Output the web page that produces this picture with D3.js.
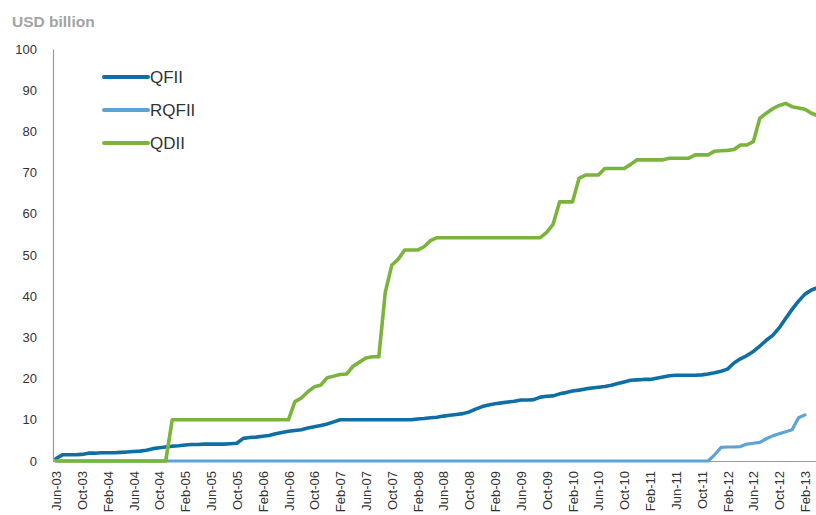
<!DOCTYPE html>
<html>
<head>
<meta charset="utf-8">
<script src="https://cdn.jsdelivr.net/npm/d3@7"></script>
<style>
  body { margin: 0; background: #fff; }
  svg { display: block; font-family: "Liberation Sans", Arial, sans-serif; }
</style>
</head>
<body>
<svg width="816" height="515"></svg>
<script>
// Monthly series, Jun-03 .. Apr-13 (USD billion)
const startMonth = new Date(2003, 5, 1);

const qfii = [
  0.6, 1.5, 1.5, 1.5, 1.6, 1.9, 1.9, 2.0, 2.0, 2.0,
  2.1, 2.2, 2.3, 2.4, 2.6, 3.0, 3.2, 3.4, 3.6, 3.7,
  3.9, 4.0, 4.0, 4.1, 4.1, 4.1, 4.1, 4.2, 4.3, 5.5,
  5.7, 5.8, 6.0, 6.2, 6.6, 6.9, 7.2, 7.4, 7.6, 8.0,
  8.3, 8.6, 9.0, 9.5, 10.0, 10.0, 10.0, 10.0, 10.0, 10.0,
  10.0, 10.0, 10.0, 10.0, 10.0, 10.0, 10.2, 10.3, 10.5, 10.6,
  10.9, 11.1, 11.3, 11.5, 11.9, 12.6, 13.2, 13.6, 13.9, 14.1,
  14.3, 14.5, 14.8, 14.8, 14.9, 15.5, 15.7, 15.8, 16.3, 16.6,
  17.0, 17.2, 17.5, 17.7, 17.9, 18.1, 18.4, 18.8, 19.2, 19.6,
  19.7, 19.8, 19.8, 20.1, 20.4, 20.7, 20.8, 20.8, 20.8, 20.8,
  20.9, 21.1, 21.4, 21.8, 22.3, 23.8, 24.8, 25.6, 26.6, 27.9,
  29.3, 30.5, 32.3, 34.6, 36.8, 38.8, 40.5, 41.5, 42.1
];

const rqfii = [
  0, 0, 0, 0, 0, 0, 0, 0, 0, 0,
  0, 0, 0, 0, 0, 0, 0, 0, 0, 0,
  0, 0, 0, 0, 0, 0, 0, 0, 0, 0,
  0, 0, 0, 0, 0, 0, 0, 0, 0, 0,
  0, 0, 0, 0, 0, 0, 0, 0, 0, 0,
  0, 0, 0, 0, 0, 0, 0, 0, 0, 0,
  0, 0, 0, 0, 0, 0, 0, 0, 0, 0,
  0, 0, 0, 0, 0, 0, 0, 0, 0, 0,
  0, 0, 0, 0, 0, 0, 0, 0, 0, 0,
  0, 0, 0, 0, 0, 0, 0, 0, 0, 0,
  0, 0, 1.5, 3.3, 3.4, 3.4, 3.5, 4.1, 4.3, 4.5,
  5.4, 6.1, 6.6, 7.1, 7.6, 10.5, 11.2
];

const qdii = [
  0, 0, 0, 0, 0, 0, 0, 0, 0, 0,
  0, 0, 0, 0, 0, 0, 0, 0, 10, 10,
  10, 10, 10, 10, 10, 10, 10, 10, 10, 10,
  10, 10, 10, 10, 10, 10, 10, 14.4, 15.3, 16.8,
  18.0, 18.4, 20.2, 20.6, 21.0, 21.1, 23.0, 24.0, 25.0, 25.3,
  25.3, 41.0, 47.5, 49.0, 51.2, 51.2, 51.2, 52.0, 53.5, 54.2,
  54.2, 54.2, 54.2, 54.2, 54.2, 54.2, 54.2, 54.2, 54.2, 54.2,
  54.2, 54.2, 54.2, 54.2, 54.2, 54.2, 55.5, 57.5, 62.9, 62.9,
  62.9, 68.6, 69.4, 69.4, 69.4, 71.0, 71.0, 71.0, 71.0, 72.0,
  73.1, 73.1, 73.1, 73.1, 73.1, 73.5, 73.5, 73.5, 73.5, 74.3,
  74.3, 74.3, 75.2, 75.3, 75.4, 75.6, 76.7, 76.7, 77.5, 83.2,
  84.4, 85.5, 86.3, 86.8, 86.0, 85.7, 85.4, 84.4, 83.8
];

const seriesNames = ['QFII', 'RQFII', 'QDII'];
const seriesColors = ['#0f6fa4', '#5ca4d6', '#7ab43c'];
const yTicks = [0, 10, 20, 30, 40, 50, 60, 70, 80, 90, 100];
const xTickMonths = d3.range(0, 117, 4); // every 4 months, Jun-03 .. Feb-13

const svg = d3.select('svg');
const fmt = d3.timeFormat('%b-%y');

const x = d3.scaleLinear()
  .domain([0, 116])
  .range([56, 805]);

const y = d3.scaleLinear()
  .domain([0, 100])
  .range([461, 49]);

// title
svg.append('text')
  .attr('x', 12)
  .attr('y', 27)
  .attr('font-size', 15.5)
  .attr('font-weight', 'bold')
  .attr('fill', '#a3a3a3')
  .text('USD billion');

// y axis
const yAxis = svg.append('g')
  .attr('transform', 'translate(53,0)')
  .call(d3.axisLeft(y).tickValues(yTicks).tickSize(0).tickPadding(16));
yAxis.select('.domain').attr('stroke', '#9a9a9a').attr('stroke-width', 1.2);
yAxis.selectAll('text').attr('font-size', 13).attr('fill', '#333')
  .attr('font-family', '"Liberation Sans", Arial, sans-serif');

// x axis
const xAxis = svg.append('g')
  .attr('transform', 'translate(0,461)')
  .call(d3.axisBottom(x)
    .tickValues(xTickMonths)
    .tickFormat(i => fmt(d3.timeMonth.offset(startMonth, i)))
    .tickSize(0)
    .tickPadding(0));
xAxis.select('.domain')
  .attr('d', 'M53,0.5H816')
  .attr('stroke', '#9a9a9a').attr('stroke-width', 1.2);
xAxis.selectAll('text')
  .attr('font-size', 13).attr('fill', '#333')
  .attr('font-family', '"Liberation Sans", Arial, sans-serif')
  .attr('transform', 'rotate(-90)')
  .attr('text-anchor', 'end')
  .attr('x', -10)
  .attr('y', 0)
  .attr('dy', '0.35em');

// lines
const line = d3.line()
  .x((d, i) => x(i))
  .y(d => y(d));

const data = [qfii, rqfii, qdii];
const widths = [3.6, 3.2, 3.6];

svg.append('g')
  .selectAll('path')
  .data(data)
  .join('path')
    .attr('d', d => line(d))
    .attr('fill', 'none')
    .attr('stroke', (d, i) => seriesColors[i])
    .attr('stroke-width', (d, i) => widths[i])
    .attr('stroke-linejoin', 'round')
    .attr('stroke-linecap', 'round');

// legend
const legend = svg.append('g')
  .selectAll('g')
  .data(seriesNames)
  .join('g')
    .attr('transform', (d, i) => `translate(104,${77 + i * 33})`);

legend.append('line')
  .attr('x1', 0).attr('x2', 44)
  .attr('stroke', (d, i) => seriesColors[i])
  .attr('stroke-width', 4)
  .attr('stroke-linecap', 'round');

legend.append('text')
  .attr('x', 46)
  .attr('dy', '0.36em')
  .attr('font-size', 17)
  .attr('font-family', '"Liberation Sans Narrow", "Liberation Sans", Arial, sans-serif')
  .attr('fill', '#333')
  .text(d => d);
</script>
</body>
</html>
